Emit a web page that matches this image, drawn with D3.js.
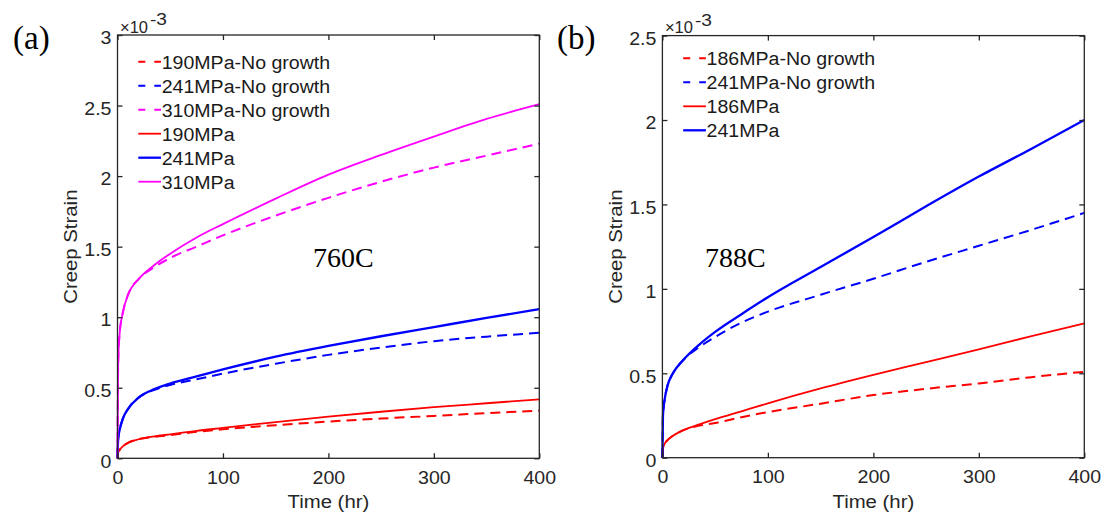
<!DOCTYPE html>
<html>
<head>
<meta charset="utf-8">
<script src="https://cdn.jsdelivr.net/npm/d3@7"></script>
<style>
  body { margin: 0; background: #fff; }
  svg { display: block; }
  .sans { font-family: "Liberation Sans", Arial, sans-serif; }
  .serif { font-family: "Liberation Serif", "Times New Roman", serif; }
  .wide { transform-box: fill-box; }
</style>
</head>
<body>
<svg id="fig" width="1107" height="516"></svg>
<script>
// Time grid (hr) shared by every curve
const hours = [0, 0.5, 1, 2, 5, 10, 20, 35, 50, 75, 100, 150, 200, 250, 300, 350, 400];

// 760C creep strain (x 1e-3)
const s190NoGrowth = [0, 0.04, 0.05, 0.06, 0.085, 0.11, 0.135, 0.152, 0.165, 0.188, 0.205, 0.235, 0.26, 0.282, 0.30, 0.32, 0.338];
const s241NoGrowth = [0, 0.12, 0.16, 0.20, 0.28, 0.35, 0.43, 0.485, 0.52, 0.56, 0.60, 0.67, 0.733, 0.785, 0.83, 0.862, 0.89];
const s310NoGrowth = [0, 0.58, 0.76, 0.88, 1.03, 1.16, 1.27, 1.355, 1.42, 1.50, 1.58, 1.72, 1.846, 1.96, 2.06, 2.145, 2.23];
const s190 = [0, 0.04, 0.05, 0.06, 0.085, 0.11, 0.135, 0.155, 0.17, 0.195, 0.215, 0.257, 0.295, 0.33, 0.362, 0.39, 0.418];
const s241 = [0, 0.12, 0.16, 0.20, 0.28, 0.35, 0.43, 0.49, 0.53, 0.58, 0.63, 0.72, 0.796, 0.865, 0.93, 0.995, 1.057];
const s310 = [0, 0.58, 0.76, 0.88, 1.03, 1.16, 1.27, 1.37, 1.45, 1.565, 1.66, 1.84, 2.01, 2.15, 2.28, 2.405, 2.51];

// 788C creep strain (x 1e-3)
const t186NoGrowth = [0, 0.05, 0.065, 0.08, 0.105, 0.13, 0.163, 0.19, 0.205, 0.24, 0.27, 0.32, 0.371, 0.408, 0.44, 0.477, 0.509];
const t241NoGrowth = [0, 0.24, 0.29, 0.34, 0.43, 0.50, 0.58, 0.655, 0.715, 0.80, 0.865, 0.965, 1.06, 1.16, 1.255, 1.35, 1.45];
const t186 = [0, 0.05, 0.065, 0.08, 0.105, 0.13, 0.163, 0.197, 0.228, 0.275, 0.322, 0.41, 0.49, 0.566, 0.642, 0.72, 0.796];
const t241 = [0, 0.24, 0.29, 0.34, 0.43, 0.50, 0.58, 0.67, 0.745, 0.85, 0.95, 1.129, 1.307, 1.489, 1.665, 1.83, 2.0];

// Axis ticks and labels
const xTicks = [0, 100, 200, 300, 400];
const yTicksA = [0, 0.5, 1, 1.5, 2, 2.5, 3];
const yTicksB = [0, 0.5, 1, 1.5, 2, 2.5];
const legendA = ["190MPa-No growth", "241MPa-No growth", "310MPa-No growth", "190MPa", "241MPa", "310MPa"];
const legendB = ["186MPa-No growth", "241MPa-No growth", "186MPa", "241MPa"];

const RED = "#ff0000", BLUE = "#0000ff", MAGENTA = "#ff00ff";
const AXIS = "#262626";

const svg = d3.select("#fig");

// Stretch sans text horizontally about a chosen origin
function widen(sel, origin, k) {
  sel.classed("wide", true)
     .style("transform-origin", origin)
     .style("transform", `scaleX(${k})`);
}

function drawPanel(p) {
  const g = svg.append("g");
  const x = d3.scaleLinear().domain([0, 400]).range([p.left, p.left + p.width]);
  const y = d3.scaleLinear().domain([0, p.yMax]).range([p.top + p.height, p.top]);

  const line = d3.line()
    .x((d, i) => x(hours[i]))
    .y(d => y(d))
    .curve(d3.curveMonotoneX);

  // curves: no-growth dashed first, full model solid on top
  p.series.forEach(s => {
    g.append("path")
      .datum(s.values)
      .attr("d", line)
      .attr("fill", "none")
      .attr("stroke", s.color)
      .attr("stroke-width", s.width)
      .attr("stroke-dasharray", s.dashed ? "10,6" : null);
  });

  // axes with inward ticks on all four sides
  const bottom = g.append("g").attr("class", "sans")
    .attr("transform", `translate(0,${y(0)})`)
    .call(d3.axisBottom(x).tickValues(xTicks).tickSizeInner(-5).tickSizeOuter(0)
      .tickPadding(13).tickFormat(d => String(d)));
  const left = g.append("g").attr("class", "sans")
    .attr("transform", `translate(${x(0)},0)`)
    .call(d3.axisLeft(y).tickValues(p.yTicks).tickSizeInner(-5).tickSizeOuter(0)
      .tickPadding(6).tickFormat(d => String(d)));
  const topAxis = g.append("g")
    .attr("transform", `translate(0,${y(p.yMax)})`)
    .call(d3.axisTop(x).tickValues(xTicks).tickSizeInner(-5).tickSizeOuter(0).tickFormat(""));
  const rightAxis = g.append("g")
    .attr("transform", `translate(${x(400)},0)`)
    .call(d3.axisRight(y).tickValues(p.yTicks).tickSizeInner(-5).tickSizeOuter(0).tickFormat(""));

  [bottom, left, topAxis, rightAxis].forEach(ax => {
    ax.select(".domain").remove();
    ax.selectAll(".tick line").attr("stroke", AXIS).attr("stroke-width", 1.3);
    ax.selectAll(".tick text").attr("fill", AXIS).style("font-size", "17.5px");
  });
  widen(bottom.selectAll(".tick text"), "50% 50%", 1.12);
  left.selectAll(".tick text").attr("dy", "0.5em");
  widen(left.selectAll(".tick text"), "100% 50%", 1.12);

  // axes box
  g.append("rect")
    .attr("x", x(0)).attr("y", y(p.yMax))
    .attr("width", x(400) - x(0)).attr("height", y(0) - y(p.yMax))
    .attr("fill", "none").attr("stroke", AXIS).attr("stroke-width", 1.3);

  // exponent label: base and raised power as separate texts of fixed length
  const ex0 = x(0) + 2.5, ey = y(p.yMax);
  g.append("text")
    .attr("x", ex0).attr("y", ey - 2.5)
    .attr("font-family", "Liberation Sans, Arial, sans-serif")
    .attr("font-size", 17)
    .attr("textLength", 28).attr("lengthAdjust", "spacingAndGlyphs")
    .attr("fill", AXIS).text("×10");
  g.append("text")
    .attr("x", ex0 + 30).attr("y", ey - 10)
    .attr("font-family", "Liberation Sans, Arial, sans-serif")
    .attr("font-size", 16)
    .attr("textLength", 17).attr("lengthAdjust", "spacingAndGlyphs")
    .attr("fill", AXIS).text("-3");

  // axis titles
  const xt = g.append("text").attr("class", "sans")
    .attr("x", (x(0) + x(400)) / 2).attr("y", 508)
    .attr("text-anchor", "middle").attr("fill", AXIS)
    .style("font-size", "18.5px").text("Time (hr)");
  widen(xt, "50% 50%", 1.1);

  const yt = g.append("g")
    .attr("transform", `translate(${x(0) - 40.8},${(y(0) + y(p.yMax)) / 2}) rotate(-90)`)
    .append("text").attr("class", "sans")
    .attr("text-anchor", "middle").attr("fill", AXIS)
    .style("font-size", "18.5px").text("Creep Strain");
  widen(yt, "50% 50%", 1.1);

  // temperature note and panel tag
  g.append("text").attr("class", "serif")
    .attr("x", p.noteX).attr("y", 266.7)
    .attr("fill", "#000").style("font-size", "28px").text(p.note);
  g.append("text").attr("class", "serif")
    .attr("x", p.tagX).attr("y", 49)
    .attr("fill", "#000").style("font-size", "33px").text(p.tag);

  // legend
  const lg = g.append("g");
  p.series.forEach((s, i) => {
    const yy = p.legendTop + i * 24;
    lg.append("line")
      .attr("x1", x(0) + 20.8).attr("x2", x(0) + 43.5)
      .attr("y1", yy).attr("y2", yy)
      .attr("stroke", s.color).attr("stroke-width", s.width)
      .attr("stroke-dasharray", s.dashed ? "7,9" : null);
    const t = lg.append("text").attr("class", "sans")
      .attr("x", x(0) + 44.2).attr("y", yy).attr("dy", "0.36em")
      .attr("fill", "#1a1a1a").style("font-size", "19px").text(s.label);
    widen(t, "0% 50%", 1.03);
  });
}

drawPanel({
  left: 117.5, top: 35, width: 421.8, height: 423.3, yMax: 3, yTicks: yTicksA,
  note: "760C", noteX: 313, tag: "(a)", tagX: 13, legendTop: 61.7,
  series: [
    { label: legendA[0], values: s190NoGrowth, color: RED, dashed: true, width: 2 },
    { label: legendA[1], values: s241NoGrowth, color: BLUE, dashed: true, width: 2 },
    { label: legendA[2], values: s310NoGrowth, color: MAGENTA, dashed: true, width: 2 },
    { label: legendA[3], values: s190, color: RED, dashed: false, width: 1.8 },
    { label: legendA[4], values: s241, color: BLUE, dashed: false, width: 2.3 },
    { label: legendA[5], values: s310, color: MAGENTA, dashed: false, width: 1.8 }
  ]
});

drawPanel({
  left: 662.4, top: 35.6, width: 421.9, height: 422.1, yMax: 2.5, yTicks: yTicksB,
  note: "788C", noteX: 705, tag: "(b)", tagX: 557, legendTop: 58.3,
  series: [
    { label: legendB[0], values: t186NoGrowth, color: RED, dashed: true, width: 2 },
    { label: legendB[1], values: t241NoGrowth, color: BLUE, dashed: true, width: 2 },
    { label: legendB[2], values: t186, color: RED, dashed: false, width: 1.8 },
    { label: legendB[3], values: t241, color: BLUE, dashed: false, width: 2.3 }
  ]
});
</script>
</body>
</html>
